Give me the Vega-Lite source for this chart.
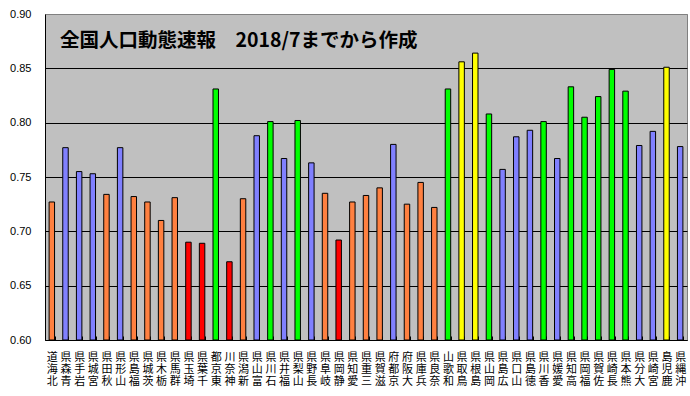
{
  "$schema": "https://vega.github.io/schema/vega-lite/v6.json",
  "autosize": "none",
  "width": 642,
  "height": 326,
  "padding": {"left": 45, "top": 14, "right": 3, "bottom": 56},
  "background": "white",
  "title": {
    "text": "全国人口動態速報　2018/7までから作成",
    "orient": "top",
    "anchor": "start",
    "frame": "group",
    "baseline": "top",
    "offset": -28,
    "dx": 15,
    "dy": 15,
    "font": "Noto Sans CJK JP",
    "fontSize": 19.5,
    "fontWeight": "bold",
    "color": "black"
  },
  "config": {
    "view": {"fill": "#C0C0C0", "stroke": "#808080", "strokeWidth": 1}
  },
  "data": {
    "values": [
      {"pref": "北海道", "v": 0.727},
      {"pref": "青森県", "v": 0.777},
      {"pref": "岩手県", "v": 0.755},
      {"pref": "宮城県", "v": 0.753},
      {"pref": "秋田県", "v": 0.734},
      {"pref": "山形県", "v": 0.777},
      {"pref": "福島県", "v": 0.732},
      {"pref": "茨城県", "v": 0.727},
      {"pref": "栃木県", "v": 0.710},
      {"pref": "群馬県", "v": 0.731},
      {"pref": "埼玉県", "v": 0.690},
      {"pref": "千葉県", "v": 0.689},
      {"pref": "東京都", "v": 0.831},
      {"pref": "神奈川", "v": 0.672},
      {"pref": "新潟県", "v": 0.730},
      {"pref": "富山県", "v": 0.788},
      {"pref": "石川県", "v": 0.801},
      {"pref": "福井県", "v": 0.767},
      {"pref": "山梨県", "v": 0.802},
      {"pref": "長野県", "v": 0.763},
      {"pref": "岐阜県", "v": 0.735},
      {"pref": "静岡県", "v": 0.692},
      {"pref": "愛知県", "v": 0.727},
      {"pref": "三重県", "v": 0.733},
      {"pref": "滋賀県", "v": 0.740},
      {"pref": "京都府", "v": 0.780},
      {"pref": "大阪府", "v": 0.725},
      {"pref": "兵庫県", "v": 0.745},
      {"pref": "奈良県", "v": 0.722},
      {"pref": "和歌山", "v": 0.831},
      {"pref": "鳥取県", "v": 0.856},
      {"pref": "島根県", "v": 0.864},
      {"pref": "岡山県", "v": 0.808},
      {"pref": "広島県", "v": 0.757},
      {"pref": "山口県", "v": 0.787},
      {"pref": "徳島県", "v": 0.793},
      {"pref": "香川県", "v": 0.801},
      {"pref": "愛媛県", "v": 0.767},
      {"pref": "高知県", "v": 0.833},
      {"pref": "福岡県", "v": 0.805},
      {"pref": "佐賀県", "v": 0.824},
      {"pref": "長崎県", "v": 0.849},
      {"pref": "熊本県", "v": 0.829},
      {"pref": "大分県", "v": 0.779},
      {"pref": "宮崎県", "v": 0.792},
      {"pref": "鹿児島", "v": 0.851},
      {"pref": "沖縄県", "v": 0.778}
    ]
  },
  "mark": {"type": "bar", "stroke": "black", "strokeWidth": 1},
  "encoding": {
    "x": {
      "field": "pref",
      "type": "nominal",
      "sort": null,
      "scale": {"paddingInner": 0.6, "paddingOuter": 0.3},
      "axis": {
        "title": null,
        "labelAngle": 0,
        "labelAlign": "center",
        "labelBaseline": "top",
        "labelExpr": "reverse(split(datum.label, ''))",
        "labelFont": "Noto Sans CJK JP",
        "labelFontSize": 11,
        "labelLineHeight": 12,
        "labelColor": "black",
        "labelPadding": 15,
        "labelOverlap": false,
        "domainColor": "black",
        "domainWidth": 1,
        "ticks": true,
        "tickBand": "extent",
        "tickSize": -4,
        "tickColor": "black",
        "tickWidth": 1
      }
    },
    "y": {
      "field": "v",
      "type": "quantitative",
      "scale": {"domain": [0.6, 0.9], "nice": false, "zero": false},
      "axis": {
        "title": null,
        "values": [0.6, 0.65, 0.7, 0.75, 0.8, 0.85, 0.9],
        "format": ".2f",
        "ticks": false,
        "labelPadding": 14,
        "labelFont": "Liberation Sans",
        "labelFontSize": 11,
        "labelColor": "black",
        "domainColor": "black",
        "domainWidth": 1,
        "grid": true,
        "gridColor": {"condition": {"test": "datum.value >= 0.9", "value": "#808080"}, "value": "black"},
        "gridOpacity": 1,
        "gridWidth": 1
      }
    },
    "y2": {"datum": 0.6},
    "color": {
      "field": "v",
      "type": "quantitative",
      "scale": {
        "type": "threshold",
        "domain": [0.70, 0.75, 0.80, 0.85],
        "range": ["#FF0000", "#FF8040", "#8080FF", "#00FF00", "#FFFF00"]
      },
      "legend": null
    }
  }
}
